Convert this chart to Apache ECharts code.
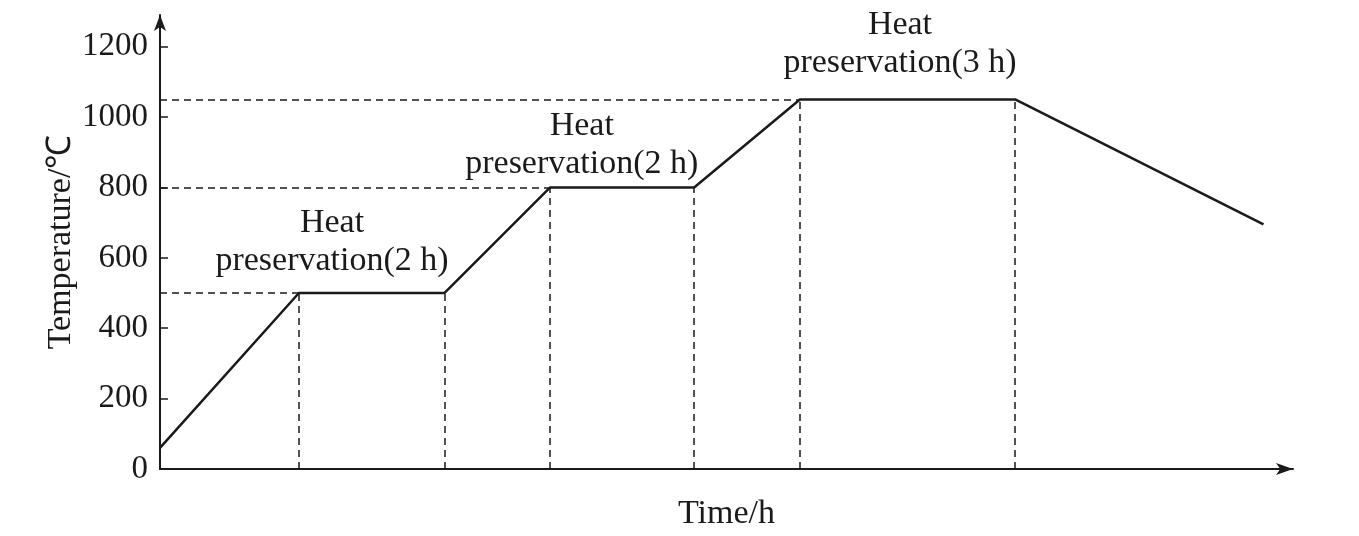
<!DOCTYPE html>
<html>
<head>
<meta charset="utf-8">
<title>Heat treatment curve</title>
<script src="https://cdn.jsdelivr.net/npm/echarts@6/dist/echarts.min.js"></script>
<style>
  html, body { margin: 0; padding: 0; background: #fff; }
  #chart { width: 1359px; height: 536px; }
</style>
</head>
<body>
<div id="chart"></div>
<script>
// heating / holding / cooling profile (time in h, temperature in °C)
var timeH = [0, 1.93, 3.95, 5.42, 7.42, 8.89, 11.88, 15.33];
var tempC = [60, 500, 500, 800, 800, 1050, 1050, 695];

// points that get a dashed drop line to the time axis
var dropIdx = [1, 2, 3, 4, 5, 6];
// points that get a dashed line back to the temperature axis
var levelIdx = [1, 3, 5];

var yTicks = [0, 200, 400, 600, 800, 1000, 1200];

// annotation boxes above each holding stage
var noteTime = [2.39, 5.86, 10.28];
var noteTemp = [646, 919, 1207];
var noteText = ['Heat\npreservation(2 h)', 'Heat\npreservation(2 h)', 'Heat\npreservation(3 h)'];

var chart = echarts.init(document.getElementById('chart'));

var FONT = '"Liberation Serif", "Times New Roman", serif';
var INK = '#1a1a1a';

var curve = timeH.map(function (t, i) { return [t, tempC[i]]; });

var dashLines = [];
dropIdx.forEach(function (i) {
  dashLines.push([{ coord: [timeH[i], 0] }, { coord: [timeH[i], tempC[i]] }]);
});
levelIdx.forEach(function (i) {
  dashLines.push([{ coord: [0, tempC[i]] }, { coord: [timeH[i], tempC[i]] }]);
});

var notes = noteTime.map(function (t, i) {
  return { value: [t, noteTemp[i]], text: noteText[i] };
});

var option = {
  backgroundColor: '#fff',
  animation: false,
  grid: { left: 160, right: 66, top: 15, bottom: 62 },
  xAxis: {
    type: 'value',
    min: 0,
    max: 15.74,
    name: 'Time/h',
    nameLocation: 'middle',
    nameGap: 28,
    nameTextStyle: { fontFamily: FONT, fontSize: 34, color: INK },
    axisLine: {
      show: true,
      symbol: ['none', 'arrow'],
      symbolSize: [9, 17],
      lineStyle: { color: INK, width: 2 }
    },
    axisTick: { show: false },
    axisLabel: { show: false },
    splitLine: { show: false }
  },
  yAxis: {
    type: 'value',
    min: 0,
    max: 1290,
    name: 'Temperature/\u2103',
    nameLocation: 'middle',
    nameGap: 82,
    nameMoveOverlap: false,
    nameTextStyle: { fontFamily: FONT, fontSize: 34, color: INK },
    axisLine: {
      show: true,
      symbol: ['none', 'arrow'],
      symbolSize: [9, 16],
      lineStyle: { color: INK, width: 2 }
    },
    axisTick: {
      show: true,
      inside: true,
      length: 8,
      customValues: yTicks,
      lineStyle: { color: INK, width: 1.5 }
    },
    axisLabel: {
      customValues: yTicks,
      formatter: function (v) { return String(v); },
      margin: 12,
      fontFamily: FONT,
      fontSize: 33,
      color: INK
    },
    splitLine: { show: false }
  },
  series: [
    {
      type: 'line',
      data: curve,
      symbol: 'none',
      lineStyle: { color: INK, width: 2.5 },
      markLine: {
        silent: true,
        symbol: ['none', 'none'],
        label: { show: false },
        lineStyle: { type: [7, 5], color: INK, width: 1.5 },
        data: dashLines
      },
      z: 3
    },
    {
      type: 'scatter',
      data: notes,
      symbolSize: 0,
      silent: true,
      itemStyle: { opacity: 1 },
      label: {
        show: true,
        position: 'inside',
        formatter: function (p) { return p.data.text; },
        fontFamily: FONT,
        fontSize: 34,
        lineHeight: 38,
        color: INK,
        align: 'center'
      }
    }
  ]
};

chart.setOption(option);
</script>
</body>
</html>
